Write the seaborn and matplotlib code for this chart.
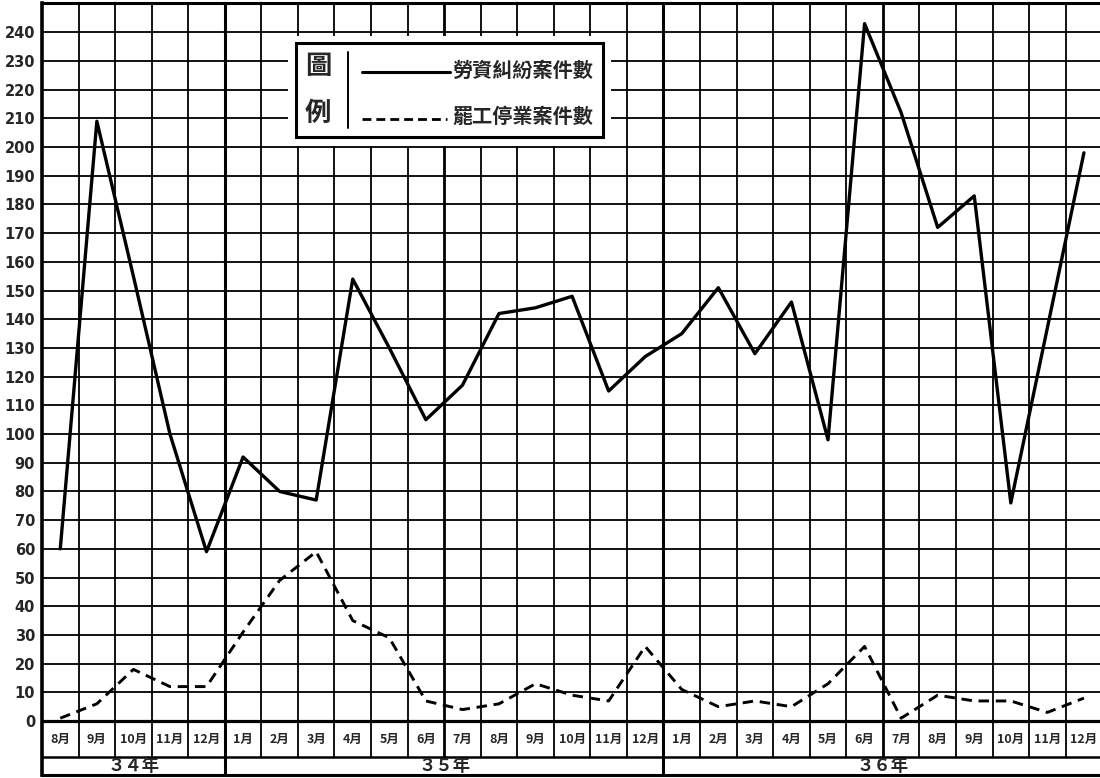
import numpy as np
import pandas as pd
import seaborn as sns
import matplotlib.pyplot as plt
from matplotlib.patches import Rectangle
from matplotlib.lines import Line2D

# 34年8月 - 36年12月
months = ['8月', '9月', '10月', '11月', '12月',
          '1月', '2月', '3月', '4月', '5月', '6月', '7月', '8月', '9月', '10月', '11月', '12月',
          '1月', '2月', '3月', '4月', '5月', '6月', '7月', '8月', '9月', '10月', '11月', '12月']
years = ['３４年', '３５年', '３６年']
year_spans = [5, 12, 12]

labor_disputes = [60, 209, 155, 100, 59,
                  92, 80, 77, 154, 130, 105, 117, 142, 144, 148, 115, 127,
                  135, 151, 128, 146, 98, 243, 212, 172, 183, 76, 137, 198]
strikes = [1, 6, 18, 12, 12,
           31, 49, 59, 35, 29, 7, 4, 6, 13, 9, 7, 26,
           11, 5, 7, 5, 13, 26, 1, 9, 7, 7, 3, 8]

label_solid = '勞資糾紛案件數'
label_dash = '罷工停業案件數'

sns.set_style("white")
plt.rcParams['font.family'] = ['Noto Sans CJK TC', 'DejaVu Sans']

W, H = 1100, 778
fig = plt.figure(figsize=(11, 7.78), dpi=100)
ax = fig.add_axes([42 / W, 3 / H, 1 - 42 / W + 0.002, 772 / H])

n = len(months)
df = pd.DataFrame({'x': np.arange(n) + 0.5, 'labor': labor_disputes, 'strike': strikes})

y_month = -12.5
y_bottom = -18.8
y_top = 250.2

# grid
for v in range(0, 250, 10):
    ax.axhline(v, color='black', lw=2.3 if v == 0 else 1.3, zorder=1)
ax.axhline(y_month, color='black', lw=1.8, zorder=1)
ax.vlines([i for i in range(1, n) if i not in (5, 11, 17, 23)], y_month, y_top,
          color='black', lw=1.3, zorder=1)
ax.vlines([11, 23], y_month, y_top, color='black', lw=2.0, zorder=1)
ax.vlines([5, 17], y_bottom, y_top, color='black', lw=2.2, zorder=1)

sns.lineplot(data=df, x='x', y='labor', color='black', lw=2.4, ax=ax, zorder=3)
sns.lineplot(data=df, x='x', y='strike', color='black', lw=2.1,
             linestyle=(0, (3.6, 2.3)), ax=ax, zorder=3)

ax.set_xlim(0, n)
ax.set_ylim(y_bottom, y_top)
ax.set_xticks([])
ax.set_yticks(range(0, 250, 10))
ax.set_yticklabels([str(v) for v in range(0, 250, 10)],
                   fontsize=10.5, fontweight='bold', family='DejaVu Sans')
ax.tick_params(axis='y', length=0, pad=5)
ax.set_xlabel('')
ax.set_ylabel('')
for side, lw in [('left', 2.6), ('top', 2.2), ('bottom', 2.2), ('right', 2.2)]:
    ax.spines[side].set_color('black')
    ax.spines[side].set_linewidth(lw)

# month / year rows
for i, m in enumerate(months):
    ax.text(i + 0.5, (0 + y_month) / 2 - 0.3, m, ha='center', va='center',
            fontsize=9, fontweight='bold')
start = 0
for yr, span in zip(years, year_spans):
    ax.text(start + span / 2, (y_month + y_bottom) / 2, yr, ha='center', va='center',
            fontsize=12.5, fontweight='bold')
    start += span

# legend box
def fx(px):
    return px / W

def fy(py):
    return 1 - py / H

fig.add_artist(Rectangle((fx(288), fy(146)), fx(611) - fx(288), fy(36) - fy(146),
                         transform=fig.transFigure, facecolor='white', edgecolor='none', zorder=5))
fig.add_artist(Rectangle((fx(296), fy(137)), fx(603) - fx(296), fy(43) - fy(137),
                         transform=fig.transFigure, facecolor='white', edgecolor='black',
                         lw=2.2, zorder=6))
fig.text(fx(318), fy(66), '圖', ha='center', va='center', fontsize=19, fontweight='bold', zorder=7)
fig.text(fx(318), fy(113), '例', ha='center', va='center', fontsize=19, fontweight='bold', zorder=7)
fig.add_artist(Line2D([fx(348), fx(348)], [fy(52), fy(128)], transform=fig.transFigure,
                      color='black', lw=1.4, zorder=7))
fig.add_artist(Line2D([fx(362), fx(450)], [fy(72), fy(72)], transform=fig.transFigure,
                      color='black', lw=2.2, zorder=7))
fig.add_artist(Line2D([fx(362), fx(447)], [fy(119), fy(119)], transform=fig.transFigure,
                      color='black', lw=2.0, linestyle=(0, (3.2, 1.8)), zorder=7))
fig.text(fx(452), fy(70), label_solid, ha='left', va='center', fontsize=14.5,
         fontweight='bold', zorder=7)
fig.text(fx(452), fy(116), label_dash, ha='left', va='center', fontsize=14.5,
         fontweight='bold', zorder=7)

plt.savefig("out.png", dpi=100)
